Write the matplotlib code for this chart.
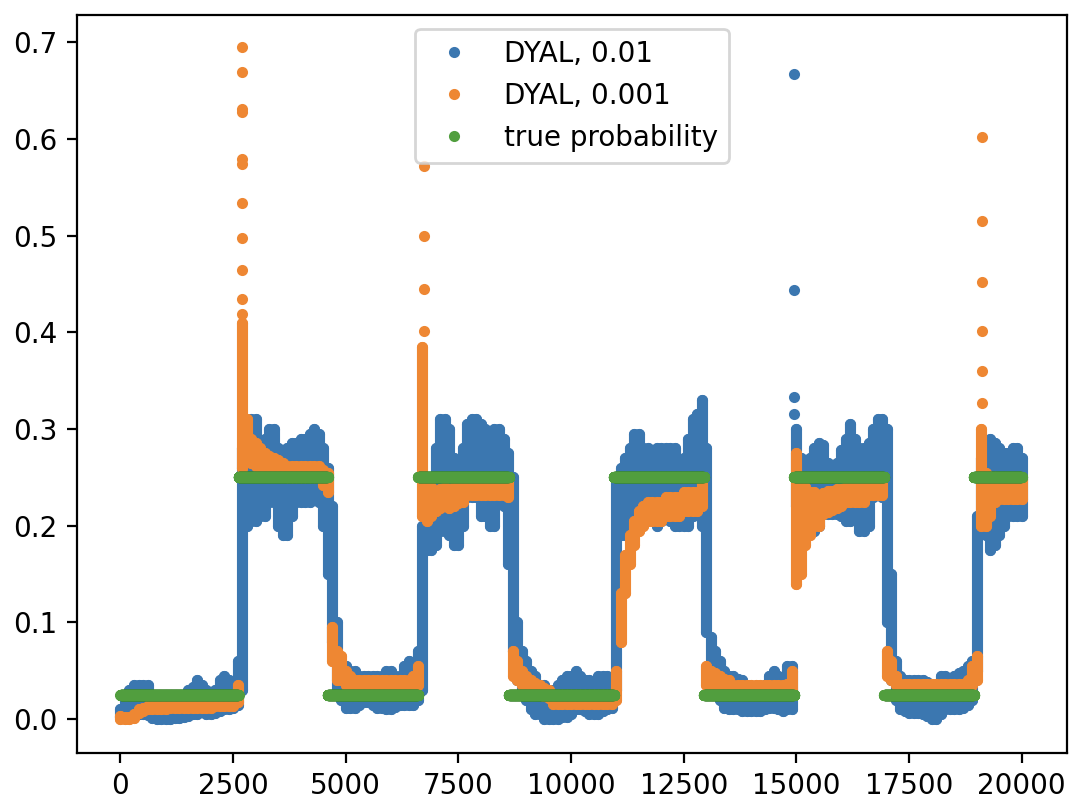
import numpy as np
import matplotlib
matplotlib.use('Agg')
from matplotlib import pyplot as plt

COLOR_FAST = '#3b77b0'
COLOR_SLOW = '#ee8733'
COLOR_TRUE = '#519e3e'

STEP = 100  # the bands below every 100 steps

# lower / upper edge of the DYAL, 0.01 cloud
blue_lo = [0.002, 0.004, 0.005, 0.005, 0.005, 0.005, 0.004, 0.001, 0.000, 0.000,
           0.000, 0.000, 0.001, 0.001, 0.002, 0.003, 0.005, 0.005, 0.007, 0.005,
           0.005, 0.006, 0.008, 0.010, 0.010, 0.012, 0.015, 0.030, 0.200, 0.205,
           0.205, 0.210, 0.210, 0.225, 0.225, 0.200, 0.190, 0.190, 0.210, 0.225,
           0.225, 0.225, 0.225, 0.230, 0.225, 0.200, 0.150, 0.080, 0.030, 0.020,
           0.012, 0.012, 0.012, 0.015, 0.018, 0.018, 0.015, 0.012, 0.012, 0.010,
           0.010, 0.013, 0.015, 0.015, 0.015, 0.015, 0.020, 0.030, 0.175, 0.175,
           0.180, 0.195, 0.195, 0.190, 0.180, 0.180, 0.200, 0.230, 0.230, 0.230,
           0.210, 0.210, 0.200, 0.200, 0.230, 0.220, 0.160, 0.070, 0.040, 0.030,
           0.020, 0.010, 0.005, 0.005, 0.000, 0.000, 0.000, 0.000, 0.002, 0.002,
           0.005, 0.010, 0.010, 0.008, 0.005, 0.005, 0.005, 0.008, 0.010, 0.012,
           0.030, 0.190, 0.190, 0.200, 0.200, 0.200, 0.210, 0.210, 0.210, 0.200,
           0.205, 0.210, 0.205, 0.200, 0.200, 0.200, 0.200, 0.210, 0.215, 0.200,
           0.090, 0.040, 0.030, 0.020, 0.012, 0.010, 0.010, 0.010, 0.008, 0.008,
           0.008, 0.008, 0.008, 0.010, 0.012, 0.012, 0.010, 0.008, 0.010, 0.010,
           0.220, 0.220, 0.200, 0.195, 0.195, 0.200, 0.212, 0.212, 0.212, 0.212,
           0.210, 0.205, 0.205, 0.210, 0.195, 0.195, 0.200, 0.230, 0.235, 0.230,
           0.100, 0.040, 0.020, 0.010, 0.008, 0.006, 0.006, 0.006, 0.005, 0.003,
           0.000, 0.000, 0.005, 0.010, 0.010, 0.010, 0.010, 0.012, 0.015, 0.020,
           0.050, 0.200, 0.190, 0.175, 0.180, 0.190, 0.200, 0.210, 0.210, 0.210,
           0.210]
blue_hi = [0.010, 0.020, 0.030, 0.035, 0.035, 0.035, 0.035, 0.025, 0.020, 0.020,
           0.020, 0.020, 0.020, 0.022, 0.025, 0.030, 0.033, 0.040, 0.035, 0.030,
           0.025, 0.030, 0.040, 0.045, 0.040, 0.035, 0.060, 0.280, 0.300, 0.310,
           0.310, 0.280, 0.290, 0.300, 0.300, 0.280, 0.275, 0.280, 0.285, 0.285,
           0.290, 0.290, 0.295, 0.300, 0.295, 0.280, 0.260, 0.220, 0.100, 0.060,
           0.055, 0.050, 0.050, 0.045, 0.045, 0.045, 0.045, 0.045, 0.045, 0.050,
           0.050, 0.045, 0.045, 0.055, 0.060, 0.055, 0.070, 0.200, 0.240, 0.250,
           0.280, 0.310, 0.310, 0.300, 0.270, 0.265, 0.280, 0.305, 0.310, 0.310,
           0.305, 0.300, 0.285, 0.300, 0.300, 0.290, 0.275, 0.250, 0.100, 0.070,
           0.060, 0.050, 0.045, 0.035, 0.035, 0.030, 0.030, 0.035, 0.040, 0.045,
           0.045, 0.050, 0.045, 0.040, 0.040, 0.035, 0.045, 0.045, 0.045, 0.040,
           0.250, 0.260, 0.270, 0.280, 0.295, 0.295, 0.280, 0.280, 0.275, 0.280,
           0.280, 0.280, 0.280, 0.280, 0.265, 0.270, 0.290, 0.310, 0.315, 0.330,
           0.280, 0.085, 0.070, 0.060, 0.050, 0.045, 0.045, 0.042, 0.040, 0.035,
           0.033, 0.033, 0.033, 0.035, 0.045, 0.050, 0.045, 0.040, 0.055, 0.055,
           0.300, 0.270, 0.260, 0.270, 0.280, 0.285, 0.283, 0.265, 0.260, 0.265,
           0.278, 0.290, 0.305, 0.290, 0.280, 0.280, 0.285, 0.300, 0.310, 0.310,
           0.300, 0.150, 0.060, 0.045, 0.040, 0.040, 0.040, 0.040, 0.040, 0.038,
           0.035, 0.035, 0.045, 0.045, 0.040, 0.045, 0.048, 0.050, 0.055, 0.060,
           0.210, 0.270, 0.285, 0.290, 0.285, 0.280, 0.275, 0.275, 0.280, 0.280,
           0.270]

# lower / upper edge of the DYAL, 0.001 cloud
orange_lo = [0.000, 0.000, 0.000, 0.001, 0.006, 0.008, 0.010, 0.010, 0.011, 0.011,
             0.011, 0.012, 0.012, 0.012, 0.012, 0.012, 0.012, 0.012, 0.012, 0.012,
             0.012, 0.014, 0.014, 0.014, 0.014, 0.014, 0.018, 0.260, 0.275, 0.265,
             0.262, 0.260, 0.260, 0.258, 0.255, 0.255, 0.253, 0.250, 0.250, 0.250,
             0.250, 0.250, 0.250, 0.250, 0.250, 0.242, 0.235, 0.060, 0.040, 0.040,
             0.035, 0.033, 0.030, 0.030, 0.030, 0.030, 0.030, 0.030, 0.030, 0.030,
             0.030, 0.030, 0.030, 0.030, 0.030, 0.033, 0.035, 0.210, 0.205, 0.210,
             0.215, 0.218, 0.220, 0.218, 0.220, 0.223, 0.225, 0.232, 0.232, 0.232,
             0.232, 0.232, 0.232, 0.232, 0.232, 0.232, 0.230, 0.045, 0.040, 0.035,
             0.032, 0.030, 0.028, 0.026, 0.024, 0.022, 0.016, 0.016, 0.016, 0.016,
             0.016, 0.016, 0.016, 0.016, 0.016, 0.016, 0.016, 0.016, 0.016, 0.016,
             0.020, 0.080, 0.130, 0.160, 0.180, 0.195, 0.200, 0.205, 0.205, 0.205,
             0.205, 0.210, 0.210, 0.210, 0.210, 0.215, 0.215, 0.215, 0.215, 0.220,
             0.035, 0.035, 0.033, 0.032, 0.030, 0.030, 0.027, 0.027, 0.027, 0.027,
             0.027, 0.027, 0.027, 0.027, 0.027, 0.027, 0.027, 0.027, 0.028, 0.030,
             0.140, 0.150, 0.180, 0.190, 0.200, 0.200, 0.212, 0.214, 0.216, 0.218,
             0.220, 0.224, 0.224, 0.224, 0.224, 0.224, 0.232, 0.232, 0.232, 0.232,
             0.045, 0.040, 0.035, 0.028, 0.028, 0.028, 0.028, 0.028, 0.028, 0.028,
             0.028, 0.028, 0.028, 0.028, 0.028, 0.028, 0.028, 0.028, 0.030, 0.035,
             0.040, 0.200, 0.200, 0.210, 0.225, 0.228, 0.228, 0.228, 0.228, 0.228,
             0.228]
orange_hi = [0.003, 0.002, 0.002, 0.005, 0.010, 0.012, 0.014, 0.014, 0.015, 0.015,
             0.015, 0.016, 0.016, 0.016, 0.016, 0.016, 0.016, 0.016, 0.016, 0.016,
             0.016, 0.019, 0.019, 0.019, 0.019, 0.019, 0.035, 0.410, 0.310, 0.290,
             0.285, 0.280, 0.275, 0.272, 0.270, 0.268, 0.265, 0.262, 0.262, 0.262,
             0.262, 0.262, 0.262, 0.262, 0.262, 0.258, 0.255, 0.095, 0.070, 0.065,
             0.050, 0.045, 0.040, 0.040, 0.040, 0.040, 0.040, 0.040, 0.040, 0.040,
             0.040, 0.040, 0.040, 0.040, 0.040, 0.045, 0.055, 0.385, 0.245, 0.240,
             0.235, 0.238, 0.240, 0.238, 0.240, 0.240, 0.242, 0.245, 0.245, 0.245,
             0.245, 0.245, 0.245, 0.245, 0.245, 0.245, 0.245, 0.070, 0.060, 0.050,
             0.045, 0.040, 0.037, 0.035, 0.032, 0.030, 0.025, 0.025, 0.025, 0.025,
             0.025, 0.025, 0.025, 0.025, 0.025, 0.025, 0.025, 0.025, 0.025, 0.025,
             0.050, 0.130, 0.170, 0.190, 0.205, 0.215, 0.220, 0.225, 0.225, 0.225,
             0.225, 0.230, 0.230, 0.230, 0.230, 0.235, 0.235, 0.235, 0.235, 0.245,
             0.055, 0.050, 0.048, 0.045, 0.042, 0.040, 0.035, 0.035, 0.035, 0.035,
             0.035, 0.035, 0.035, 0.035, 0.035, 0.035, 0.035, 0.035, 0.036, 0.050,
             0.275, 0.250, 0.240, 0.235, 0.235, 0.232, 0.234, 0.236, 0.236, 0.238,
             0.238, 0.240, 0.240, 0.240, 0.240, 0.240, 0.246, 0.246, 0.246, 0.246,
             0.070, 0.060, 0.045, 0.036, 0.036, 0.036, 0.036, 0.036, 0.036, 0.036,
             0.036, 0.036, 0.036, 0.036, 0.036, 0.036, 0.036, 0.036, 0.040, 0.055,
             0.065, 0.300, 0.255, 0.250, 0.250, 0.248, 0.248, 0.248, 0.248, 0.248,
             0.248]

# isolated points above the clouds right after a switch
blue_spike_at = 14946
blue_spike_vals = [0.667, 0.444, 0.333, 0.315]
orange_spike_at = [2690, 6735, 19112]
orange_spike_vals = [[0.695, 0.669, 0.631, 0.628, 0.579, 0.574, 0.534, 0.497, 0.464, 0.434, 0.419],
                     [0.572, 0.500, 0.445, 0.401],
                     [0.602, 0.515, 0.452, 0.401, 0.360, 0.327]]

# true probability: piecewise constant
true_bounds = [0, 2620, 4600, 6610, 8620, 10950, 12950, 14950, 16950, 18940, 20000]
true_levels = [0.025, 0.25, 0.025, 0.25, 0.025, 0.25, 0.025, 0.25, 0.025, 0.25]


def draw_cloud(ax, lo, hi, color, label, lw=4.0):
    x = np.arange(len(lo)) * STEP
    ax.vlines(x, lo, hi, colors=color, linewidth=lw, capstyle='round')
    ax.plot(x, lo, '.', color=color, label=label)
    ax.plot(x, hi, '.', color=color)


fig = plt.figure(figsize=(1088 / 200, 810 / 200), dpi=200)
ax = fig.add_axes([77 / 1088, 57 / 810, 990 / 1088, 738 / 810])

draw_cloud(ax, blue_lo, blue_hi, COLOR_FAST, 'DYAL, 0.01')
ax.plot([blue_spike_at] * len(blue_spike_vals), blue_spike_vals, '.', color=COLOR_FAST)

draw_cloud(ax, orange_lo, orange_hi, COLOR_SLOW, 'DYAL, 0.001')
for at, vals in zip(orange_spike_at, orange_spike_vals):
    ax.plot([at] * len(vals), vals, '.', color=COLOR_SLOW)

steps = np.arange(true_bounds[0], true_bounds[-1])
true_p = np.repeat(true_levels, np.diff(true_bounds))
ax.plot(steps, true_p, '.', color=COLOR_TRUE, label='true probability')

ax.set_xlim(-965, 21005)
ax.set_ylim(-0.035, 0.728)
ax.set_xticks(np.arange(0, 20001, 2500))
ax.legend(loc='upper center')

plt.savefig('out.png', dpi=200)
plt.close()
